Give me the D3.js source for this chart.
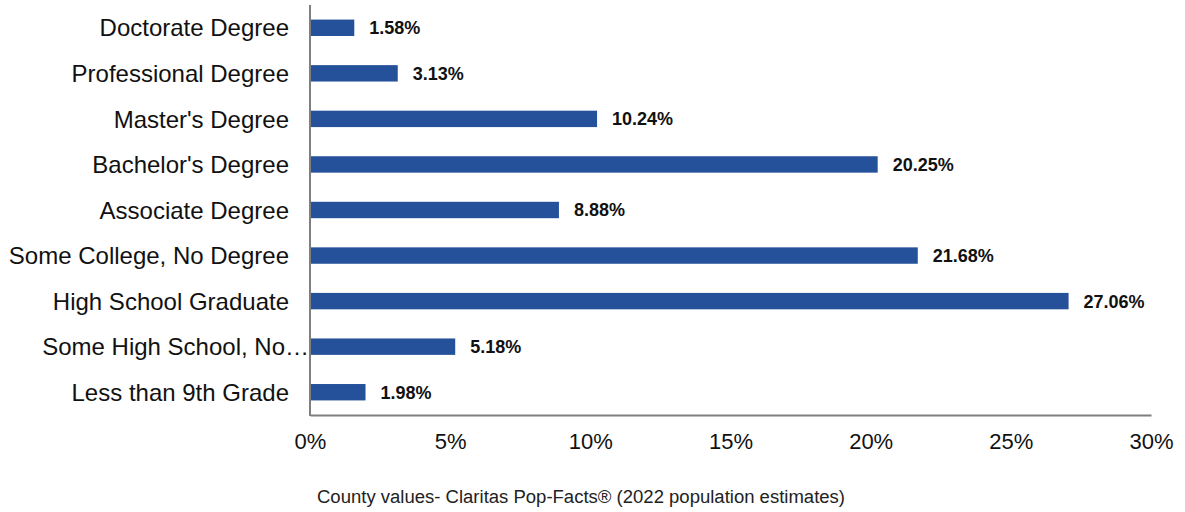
<!DOCTYPE html>
<html>
<head>
<meta charset="utf-8">
<script src="https://cdn.jsdelivr.net/npm/d3@7"></script>
<style>
  body { margin: 0; background: #fff; }
  svg { display: block; font-family: "Liberation Sans", Arial, sans-serif; }
</style>
</head>
<body>
<div id="chart"></div>
<script>
// values
var categories = ["Doctorate Degree", "Professional Degree", "Master's Degree", "Bachelor's Degree",
  "Associate Degree", "Some College, No Degree", "High School Graduate",
  "Some High School, No\u2026", "Less than 9th Grade"]
var values = [1.58, 3.13, 10.24, 20.25, 8.88, 21.68, 27.06, 5.18, 1.98]
var tickValues = [0, 5, 10, 15, 20, 25, 30]
var footnote = "County values- Claritas Pop-Facts\u00ae (2022 population estimates)"

var width = 1185, height = 512
var data = categories.map(function (c, i) { return { name: c, value: values[i] } })

var svg = d3.select("#chart").append("svg")
  .attr("width", width)
  .attr("height", height)

var x = d3.scaleLinear().domain([0, 30]).range([310, 1151])
var y = d3.scaleBand().domain(categories).range([5, 415]).paddingInner(0.64).paddingOuter(0.32)

// bars
svg.append("g").selectAll("rect")
  .data(data)
  .enter()
  .append("rect")
  .attr("x", x(0))
  .attr("y", function (d) { return y(d.name) })
  .attr("width", function (d) { return x(d.value) - x(0) })
  .attr("height", y.bandwidth())
  .attr("fill", "#245199")

// value labels
svg.append("g").selectAll("text")
  .data(data)
  .enter()
  .append("text")
  .attr("x", function (d) { return x(d.value) + 15 })
  .attr("y", function (d) { return y(d.name) + y.bandwidth() / 2 })
  .attr("dy", "0.36em")
  .attr("font-size", 18)
  .attr("font-weight", "bold")
  .attr("fill", "#111")
  .text(function (d) { return d.value.toFixed(2) + "%" })

// category labels
svg.append("g").selectAll("text")
  .data(data)
  .enter()
  .append("text")
  .attr("x", function (d) { return d.name.indexOf("\u2026") > -1 ? 309 : 289 })
  .attr("y", function (d) { return y(d.name) + y.bandwidth() / 2 })
  .attr("dy", "0.36em")
  .attr("text-anchor", "end")
  .attr("font-size", 24)
  .attr("fill", "#111")
  .text(function (d) { return d.name })

// axes
var xAxis = svg.append("g")
  .attr("transform", "translate(0,415)")
  .call(d3.axisBottom(x).tickValues(tickValues).tickSize(0).tickPadding(18)
    .tickFormat(function (d) { return d + "%" }))
xAxis.select(".domain").attr("stroke", "#7f7f7f").attr("stroke-width", 2)
xAxis.selectAll("text")
  .attr("font-size", 22)
  .attr("fill", "#111")
  .attr("font-family", "Liberation Sans, Arial, sans-serif")

svg.append("line")
  .attr("x1", x(0)).attr("x2", x(0))
  .attr("y1", 5).attr("y2", 416)
  .attr("stroke", "#7f7f7f")
  .attr("stroke-width", 2)

// footnote
svg.append("text")
  .attr("x", 317)
  .attr("y", 503)
  .attr("font-size", 18)
  .attr("fill", "#222")
  .attr("textLength", 528)
  .attr("lengthAdjust", "spacingAndGlyphs")
  .text(footnote)
</script>
</body>
</html>
